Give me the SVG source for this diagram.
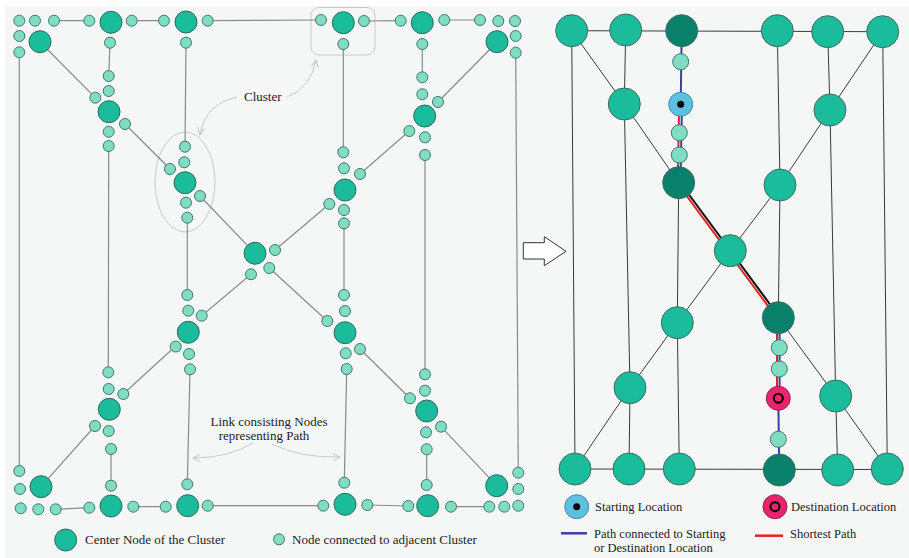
<svg xmlns="http://www.w3.org/2000/svg" width="909" height="558" viewBox="0 0 909 558">
<defs>
<marker id="ah" viewBox="0 0 10 10" refX="9" refY="5" markerWidth="9" markerHeight="9" orient="auto" markerUnits="userSpaceOnUse">
<polyline points="1,1 9,5 1,9" fill="none" stroke="#bdbdbd" stroke-width="1"/>
</marker>
<style>
.s{fill:#80dcc3;stroke:#3b7a69;stroke-width:1}
.b{fill:#1abc9c;stroke:#2e6a5c;stroke-width:1}
.R{fill:#1abc9c;stroke:#3d6b60;stroke-width:1}
.D{fill:#08806a;stroke:#3d6b60;stroke-width:1}
.e{stroke:#8a8a8a;stroke-width:1.2;fill:none}
.k{stroke:#3a3a3a;stroke-width:1;fill:none}
.a{stroke:#c8c8c8;stroke-width:1;fill:none}
.t{font-family:"Liberation Serif","Times New Roman",serif;font-size:13px;fill:#222}
.u{font-family:"Liberation Serif","Times New Roman",serif;font-size:12.5px;fill:#222}
</style>
</defs>
<rect x="5" y="6" width="904" height="552" fill="#f5f7f7"/>

<g id="annotations">
<rect x="311" y="7.5" width="64" height="47.5" rx="8" fill="none" stroke="#c8c8c8"/>
<ellipse cx="185" cy="182" rx="30" ry="50" fill="none" stroke="#c8c8c8"/>
<path class="a" d="M287,97 Q311,88 316,60" marker-end="url(#ah)"/>
<path class="a" d="M237,97 Q205,104 200,135" marker-end="url(#ah)"/>
<path class="a" d="M253,443 Q228,458 193,458" marker-end="url(#ah)"/>
<path class="a" d="M272,444 Q300,458 340,457" marker-end="url(#ah)"/>
<text class="t" x="244" y="101">Cluster</text>
<text class="t" x="269" y="426" text-anchor="middle">Link consisting Nodes</text>
<text class="t" x="264" y="440" text-anchor="middle">representing Path</text>
</g>

<g id="connectors">
<g class="e">
<line x1="54" y1="20.7" x2="89.3" y2="20.7"/>
<line x1="131.7" y1="20.7" x2="164" y2="20.7"/>
<line x1="207.7" y1="20.7" x2="321" y2="20"/>
<line x1="364" y1="21" x2="400.7" y2="20.7"/>
<line x1="444.3" y1="20" x2="480" y2="20"/>
<line x1="19.3" y1="52.3" x2="19.3" y2="471"/>
<line x1="40" y1="42" x2="95.3" y2="97.7"/>
<line x1="110" y1="42.7" x2="108.7" y2="76"/>
<line x1="186" y1="42.7" x2="185" y2="146.7"/>
<line x1="125" y1="124" x2="170" y2="169"/>
<line x1="108.7" y1="146" x2="108.3" y2="372.3"/>
<line x1="343.3" y1="44" x2="343.3" y2="152.3"/>
<line x1="422.3" y1="44" x2="422.3" y2="77.3"/>
<line x1="497" y1="42" x2="438" y2="102"/>
<line x1="360" y1="174" x2="409.3" y2="131"/>
<line x1="425" y1="155" x2="425" y2="374.3"/>
<line x1="515.7" y1="52.7" x2="518.3" y2="472.7"/>
<line x1="200" y1="196" x2="255" y2="253.3"/>
<line x1="187.3" y1="217.7" x2="187.3" y2="295"/>
<line x1="275" y1="250" x2="329.3" y2="204"/>
<line x1="269.3" y1="268" x2="327.3" y2="321"/>
<line x1="251" y1="274.3" x2="201.7" y2="315.7"/>
<line x1="344" y1="223.3" x2="344" y2="295"/>
<line x1="123.3" y1="394" x2="175.7" y2="346"/>
<line x1="190" y1="369.3" x2="187.3" y2="484.3"/>
<line x1="360" y1="349" x2="410" y2="398.3"/>
<line x1="346.7" y1="369" x2="344.3" y2="482.7"/>
<line x1="41" y1="486.7" x2="95" y2="426"/>
<line x1="111" y1="449" x2="111" y2="485.7"/>
<line x1="55.7" y1="509.3" x2="89.3" y2="507.7"/>
<line x1="133.3" y1="506.7" x2="165.7" y2="506.7"/>
<line x1="207.7" y1="505.7" x2="323.3" y2="505.7"/>
<line x1="367.3" y1="505" x2="408.3" y2="506"/>
<line x1="451" y1="506.7" x2="489.3" y2="506.7"/>
<line x1="441" y1="426.7" x2="496.7" y2="485.7"/>
<line x1="426.7" y1="449.3" x2="426.7" y2="485"/>
</g>
<g class="k">
<line x1="571.7" y1="30.7" x2="882.7" y2="31.7"/>
<line x1="575" y1="469" x2="887.3" y2="469.5"/>
<line x1="571.7" y1="30.7" x2="575" y2="469"/>
<line x1="625.7" y1="30" x2="624.3" y2="104"/>
<line x1="624.3" y1="104" x2="630" y2="387.7"/>
<line x1="630" y1="387.7" x2="629" y2="469"/>
<line x1="571.7" y1="30.7" x2="624.3" y2="104"/>
<line x1="624.3" y1="104" x2="678.7" y2="182.7"/>
<line x1="678.7" y1="182.7" x2="677.3" y2="322.7"/>
<line x1="677.3" y1="322.7" x2="679.3" y2="469"/>
<line x1="777.3" y1="30.7" x2="780" y2="185"/>
<line x1="780" y1="185" x2="778.3" y2="317.7"/>
<line x1="780" y1="185" x2="830" y2="110"/>
<line x1="830" y1="110" x2="882.7" y2="31.7"/>
<line x1="827.7" y1="31.7" x2="830" y2="110"/>
<line x1="830" y1="110" x2="835.7" y2="396"/>
<line x1="835.7" y1="396" x2="837.7" y2="470"/>
<line x1="882.7" y1="31.7" x2="887.3" y2="469"/>
<line x1="730.3" y1="250.7" x2="780" y2="185"/>
<line x1="730.3" y1="250.7" x2="677.3" y2="322.7"/>
<line x1="677.3" y1="322.7" x2="630" y2="387.7"/>
<line x1="630" y1="387.7" x2="575" y2="469"/>
<line x1="778.3" y1="317.7" x2="835.7" y2="396"/>
<line x1="835.7" y1="396" x2="887.3" y2="469"/>
</g>
<g id="paths" stroke-width="2" fill="none">
<line x1="681.7" y1="30.7" x2="680.7" y2="104.3" stroke="#3b3fa8"/>
<line x1="679.2" y1="104.3" x2="677.7" y2="182.7" stroke="#e02424"/>
<line x1="682" y1="104.3" x2="680.5" y2="182.7" stroke="#3b3fa8"/>
<line x1="679.7" y1="182" x2="779.3" y2="317" stroke="#111"/>
<line x1="677.7" y1="183.7" x2="777.3" y2="318.7" stroke="#e02424"/>
<line x1="777" y1="317.7" x2="777" y2="398.3" stroke="#e02424"/>
<line x1="779.6" y1="317.7" x2="779.6" y2="398.3" stroke="#3b3fa8"/>
<line x1="778.3" y1="398.3" x2="779.3" y2="470" stroke="#3b3fa8"/>
</g>
</g>

<g id="left-small-nodes">
<circle class="s" cx="19.3" cy="20.7" r="5.5"/><circle class="s" cx="35" cy="20.7" r="5.5"/><circle class="s" cx="54" cy="20.7" r="5.5"/><circle class="s" cx="89.3" cy="20.7" r="5.5"/><circle class="s" cx="131.7" cy="20.7" r="5.5"/><circle class="s" cx="164" cy="20.7" r="5.5"/><circle class="s" cx="207.7" cy="20.7" r="5.5"/><circle class="s" cx="19.3" cy="36" r="5.5"/><circle class="s" cx="19.3" cy="52.3" r="5.5"/><circle class="s" cx="110" cy="42.7" r="5.5"/><circle class="s" cx="108.7" cy="76" r="5.5"/><circle class="s" cx="108.7" cy="91" r="5.5"/><circle class="s" cx="95.3" cy="97.7" r="5.5"/><circle class="s" cx="125" cy="124" r="5.5"/><circle class="s" cx="108.7" cy="131.7" r="5.5"/><circle class="s" cx="108.7" cy="146" r="5.5"/><circle class="s" cx="186" cy="42.7" r="5.5"/><circle class="s" cx="185" cy="146.7" r="5.5"/><circle class="s" cx="184.3" cy="162.3" r="5.5"/><circle class="s" cx="170" cy="169" r="5.5"/><circle class="s" cx="200" cy="196" r="5.5"/><circle class="s" cx="186" cy="202.7" r="5.5"/><circle class="s" cx="187.3" cy="217.7" r="5.5"/>
<circle class="s" cx="321" cy="20" r="5.5"/><circle class="s" cx="364" cy="21" r="5.5"/><circle class="s" cx="343.3" cy="44" r="5.5"/><circle class="s" cx="400.7" cy="20.7" r="5.5"/><circle class="s" cx="444.3" cy="20" r="5.5"/><circle class="s" cx="480" cy="20" r="5.5"/><circle class="s" cx="498.3" cy="21" r="5.5"/><circle class="s" cx="515" cy="21" r="5.5"/><circle class="s" cx="515.7" cy="36" r="5.5"/><circle class="s" cx="515.7" cy="52.7" r="5.5"/><circle class="s" cx="422.3" cy="44" r="5.5"/><circle class="s" cx="422.3" cy="77.3" r="5.5"/><circle class="s" cx="422.3" cy="94.3" r="5.5"/><circle class="s" cx="438" cy="102" r="5.5"/><circle class="s" cx="409.3" cy="131" r="5.5"/><circle class="s" cx="425" cy="137.3" r="5.5"/><circle class="s" cx="425" cy="155" r="5.5"/><circle class="s" cx="343.3" cy="152.3" r="5.5"/><circle class="s" cx="344" cy="168.3" r="5.5"/><circle class="s" cx="360" cy="174" r="5.5"/><circle class="s" cx="329.3" cy="204" r="5.5"/><circle class="s" cx="344" cy="210" r="5.5"/><circle class="s" cx="344" cy="223.3" r="5.5"/>
<circle class="s" cx="275" cy="250" r="5.5"/><circle class="s" cx="269.3" cy="268" r="5.5"/><circle class="s" cx="251" cy="274.3" r="5.5"/>
<circle class="s" cx="187.3" cy="295" r="5.5"/><circle class="s" cx="188.3" cy="310.7" r="5.5"/><circle class="s" cx="201.7" cy="315.7" r="5.5"/><circle class="s" cx="175.7" cy="346.5" r="5.5"/><circle class="s" cx="189" cy="354" r="5.5"/><circle class="s" cx="190" cy="369.3" r="5.5"/>
<circle class="s" cx="344" cy="295" r="5.5"/><circle class="s" cx="345" cy="311" r="5.5"/><circle class="s" cx="327.3" cy="321" r="5.5"/><circle class="s" cx="360" cy="349" r="5.5"/><circle class="s" cx="345.7" cy="353.3" r="5.5"/><circle class="s" cx="346.7" cy="369" r="5.5"/>
<circle class="s" cx="108.3" cy="372.3" r="5.5"/><circle class="s" cx="108.7" cy="389" r="5.5"/><circle class="s" cx="123.3" cy="394" r="5.5"/><circle class="s" cx="95" cy="426" r="5.5"/><circle class="s" cx="108.7" cy="431" r="5.5"/><circle class="s" cx="111" cy="449" r="5.5"/><circle class="s" cx="111" cy="485.7" r="5.5"/><circle class="s" cx="19.3" cy="471" r="5.5"/><circle class="s" cx="20" cy="489" r="5.5"/><circle class="s" cx="20.7" cy="508.3" r="5.5"/><circle class="s" cx="38.3" cy="509.3" r="5.5"/><circle class="s" cx="55.7" cy="509.3" r="5.5"/><circle class="s" cx="89.3" cy="507.7" r="5.5"/><circle class="s" cx="133.3" cy="506.7" r="5.5"/><circle class="s" cx="165.7" cy="506.7" r="5.5"/><circle class="s" cx="207.7" cy="505.7" r="5.5"/><circle class="s" cx="187.3" cy="484.3" r="5.5"/>
<circle class="s" cx="425" cy="374.3" r="5.5"/><circle class="s" cx="425" cy="390.7" r="5.5"/><circle class="s" cx="410" cy="398.3" r="5.5"/><circle class="s" cx="441" cy="426.7" r="5.5"/><circle class="s" cx="426" cy="432.3" r="5.5"/><circle class="s" cx="426.7" cy="449.3" r="5.5"/><circle class="s" cx="426.7" cy="485" r="5.5"/><circle class="s" cx="323.3" cy="505.7" r="5.5"/><circle class="s" cx="367.3" cy="505" r="5.5"/><circle class="s" cx="408.3" cy="506" r="5.5"/><circle class="s" cx="451" cy="506.7" r="5.5"/><circle class="s" cx="489.3" cy="506.7" r="5.5"/><circle class="s" cx="504.3" cy="506.7" r="5.5"/><circle class="s" cx="518.3" cy="505.7" r="5.5"/><circle class="s" cx="518.3" cy="472.7" r="5.5"/><circle class="s" cx="518.3" cy="489" r="5.5"/><circle class="s" cx="344.3" cy="482.7" r="5.5"/>
</g>

<g id="left-center-nodes">
<circle class="b" cx="111" cy="22.3" r="11"/><circle class="b" cx="186" cy="22" r="11"/><circle class="b" cx="40" cy="41.7" r="11"/><circle class="b" cx="109" cy="111.7" r="11"/><circle class="b" cx="185" cy="182.7" r="11"/><circle class="b" cx="343.3" cy="22.7" r="11"/><circle class="b" cx="422.3" cy="22.7" r="11"/><circle class="b" cx="497" cy="41.7" r="11"/><circle class="b" cx="424.7" cy="116" r="11"/><circle class="b" cx="345" cy="190" r="11"/><circle class="b" cx="255" cy="253.3" r="11"/><circle class="b" cx="188.3" cy="332.3" r="11"/><circle class="b" cx="345" cy="332.7" r="11"/><circle class="b" cx="109.3" cy="409.3" r="11"/><circle class="b" cx="426.7" cy="411" r="11"/><circle class="b" cx="41" cy="486.7" r="11"/><circle class="b" cx="111" cy="506" r="11"/><circle class="b" cx="187.7" cy="505.7" r="11"/><circle class="b" cx="345" cy="504.3" r="11"/><circle class="b" cx="427.7" cy="505.7" r="11"/><circle class="b" cx="496.7" cy="485.7" r="11"/>
</g>

<g id="left-legend">
<circle class="b" cx="65.7" cy="540" r="11"/>
<text class="t" x="85" y="544">Center Node of the Cluster</text>
<circle class="s" cx="279" cy="539.3" r="5.5"/>
<text class="t" x="292" y="544">Node connected to adjacent Cluster</text>
</g>

<g id="transform-arrow">
<polygon points="523.3,242.7 544.3,242.7 544.3,236.7 566,251.3 544.3,265.7 544.3,259 523.3,259" fill="#ffffff" stroke="#333" stroke-width="1"/>
</g>

<g id="right-nodes">
<circle class="R" cx="571.7" cy="30.7" r="16"/><circle class="R" cx="625.7" cy="30" r="16"/><circle class="D" cx="681.7" cy="30.7" r="16"/><circle class="R" cx="777.3" cy="30.7" r="16"/><circle class="R" cx="827.7" cy="31.7" r="16"/><circle class="R" cx="882.7" cy="31.7" r="16"/>
<circle class="R" cx="624.3" cy="104" r="16"/><circle class="R" cx="830" cy="110" r="16"/>
<circle class="s" cx="680.7" cy="61.7" r="8"/><circle class="s" cx="679.3" cy="132.7" r="8"/><circle class="s" cx="679.3" cy="155" r="8"/>
<circle class="D" cx="678.7" cy="182.7" r="16"/><circle class="R" cx="780" cy="185" r="16"/>
<circle class="R" cx="730.3" cy="250.7" r="16"/>
<circle class="R" cx="677.3" cy="322.7" r="16"/><circle class="D" cx="778.3" cy="317.7" r="16"/>
<circle class="s" cx="779.3" cy="347.7" r="8"/><circle class="s" cx="779.3" cy="369" r="8"/><circle class="s" cx="778.3" cy="439.3" r="8"/>
<circle class="R" cx="630" cy="387.7" r="16"/><circle class="R" cx="835.7" cy="396" r="16"/>
<circle class="R" cx="575" cy="469" r="16"/><circle class="R" cx="629" cy="469" r="16"/><circle class="R" cx="679.3" cy="469" r="16"/><circle class="D" cx="779.3" cy="470" r="16"/><circle class="R" cx="837.7" cy="470" r="16"/><circle class="R" cx="887.3" cy="469" r="16"/>
</g>

<g id="start-node">
<circle cx="680.7" cy="104.3" r="12" fill="#5ec0e0" stroke="#3b8fae" stroke-width="1"/>
<circle cx="680.7" cy="104.3" r="3.5" fill="#000"/>
</g>
<g id="destination-node">
<circle cx="778.3" cy="398.3" r="12" fill="#e8246f" stroke="#9a1f4a" stroke-width="1"/>
<circle cx="778.3" cy="398.3" r="4.5" fill="none" stroke="#000" stroke-width="2"/>
</g>

<g id="right-legend">
<circle cx="576.7" cy="506.7" r="12" fill="#5ec0e0" stroke="#3b8fae" stroke-width="1"/>
<circle cx="576.7" cy="506.7" r="3.5" fill="#000"/>
<text class="u" x="595" y="511">Starting Location</text>
<circle cx="775" cy="506.7" r="12" fill="#e8246f" stroke="#9a1f4a" stroke-width="1"/>
<circle cx="775" cy="506.7" r="4.5" fill="none" stroke="#000" stroke-width="2"/>
<text class="u" x="791" y="511">Destination Location</text>
<line x1="561" y1="533.3" x2="587" y2="533.3" stroke="#3b3fa8" stroke-width="2.5"/>
<text class="u" x="594" y="538">Path connected to Starting</text>
<text class="u" x="594" y="552">or Destination Location</text>
<line x1="755" y1="535.7" x2="783" y2="535.7" stroke="#e02424" stroke-width="2.5"/>
<text class="u" x="790" y="538">Shortest Path</text>
</g>
</svg>
